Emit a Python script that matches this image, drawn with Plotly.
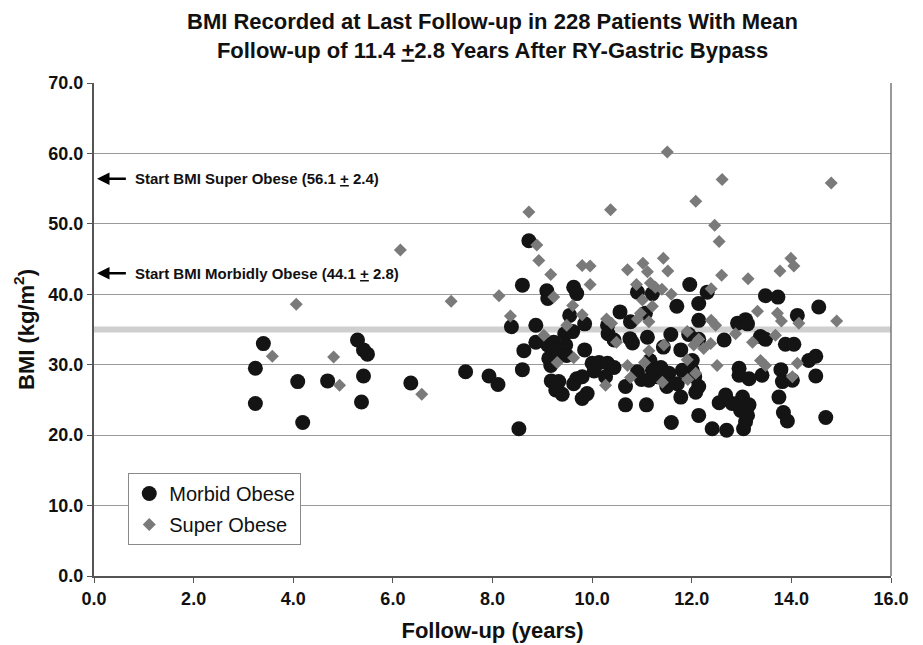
import plotly.graph_objects as go

# Morbid Obese (follow-up years, BMI)
morbid_x = [3.40, 3.24, 3.24, 4.19, 4.09, 4.69, 5.29, 5.41, 5.49, 5.41, 5.37, 6.36, 7.46, 7.93, 8.11,
            8.73, 8.60, 9.09, 9.11, 9.63, 9.69, 9.55, 9.85, 8.38, 8.87, 9.45, 9.61, 8.87, 9.23, 9.11,
            9.47, 8.63, 9.20, 9.43, 9.85, 9.13, 9.30, 9.49, 9.17, 8.60, 10.00, 10.04, 9.18, 9.33, 9.27,
            9.40, 9.69, 9.63, 9.90, 9.80, 8.53, 11.96, 10.91, 11.21, 11.70, 12.14, 10.56, 11.07, 10.77, 12.14,
            10.31, 11.58, 11.94, 12.14, 10.32, 10.44, 10.76, 10.81, 11.11, 11.43, 11.78, 11.16, 10.14, 10.31, 10.44,
            10.91, 11.21, 10.99, 11.14, 11.31, 11.50, 11.38, 11.54, 11.81, 11.71, 12.01, 11.78, 12.06, 12.14, 12.14,
            11.59, 10.67, 10.67, 11.09, 10.27, 12.31, 13.48, 13.73, 14.12, 12.92, 13.08, 13.12, 13.38, 13.48, 13.88,
            14.05, 12.65, 13.41, 12.95, 12.95, 13.15, 13.79, 13.82, 14.02, 14.35, 12.01, 12.08, 12.41, 12.70, 13.04,
            13.08, 13.12, 13.02, 12.81, 12.55, 12.68, 13.15, 12.98, 13.75, 13.84, 13.92, 14.55, 14.49, 14.49, 14.69,
            9.80]
morbid_y = [33.0, 29.5, 24.5, 21.8, 27.6, 27.7, 33.5, 32.1, 31.5, 28.4, 24.7, 27.4, 29.0, 28.4, 27.2,
            47.6, 41.3, 40.5, 39.4, 41.0, 40.1, 37.0, 35.8, 35.4, 35.6, 34.4, 34.7, 33.2, 33.2, 32.8,
            32.8, 32.0, 31.8, 31.8, 32.1, 30.9, 31.2, 31.3, 29.9, 29.3, 30.2, 29.1, 27.7, 27.6, 26.4,
            25.8, 28.0, 27.3, 25.9, 25.2, 20.9, 41.4, 40.3, 40.1, 38.3, 38.7, 37.5, 37.3, 36.1, 36.3,
            35.6, 34.3, 34.3, 33.6, 34.4, 33.5, 33.7, 33.1, 33.9, 32.5, 32.1, 30.6, 30.3, 30.2, 29.6,
            29.0, 29.2, 27.9, 27.8, 28.3, 26.9, 29.6, 28.8, 29.2, 27.3, 29.2, 25.4, 28.3, 26.9, 22.8,
            21.8, 26.9, 24.3, 24.3, 28.3, 40.3, 39.8, 39.6, 37.0, 35.9, 36.4, 35.8, 34.0, 33.6, 32.9,
            32.9, 33.5, 28.5, 29.5, 28.5, 28.0, 29.3, 27.6, 27.8, 30.6, 30.6, 26.1, 20.9, 20.7, 20.9,
            21.9, 22.8, 25.4, 24.5, 24.6, 25.7, 24.3, 23.5, 25.4, 23.2, 22.0, 38.2, 31.2, 28.4, 22.5,
            28.3]

# Super Obese (follow-up years, BMI)
super_x = [3.58, 4.06, 4.81, 4.93, 6.15, 6.58, 7.17, 8.73, 8.89, 8.93, 9.17, 9.80, 9.96, 9.96, 8.13,
           9.23, 9.61, 9.80, 8.36, 9.03, 9.49, 9.63, 9.30, 11.51, 10.37, 12.08, 10.71, 11.02, 11.11, 11.43,
           11.52, 10.89, 11.17, 11.27, 11.40, 11.59, 11.01, 11.21, 10.97, 10.29, 10.39, 10.91, 11.14, 11.91, 10.49,
           11.44, 12.04, 11.14, 11.05, 10.71, 10.77, 11.41, 11.91, 11.92, 10.27, 12.61, 12.46, 12.55, 12.60, 13.13,
           13.77, 13.99, 14.05, 12.39, 13.32, 13.72, 13.80, 14.15, 12.39, 12.48, 12.88, 13.68, 13.22, 12.38, 12.24,
           13.38, 13.48, 12.51, 14.02, 14.12, 12.08, 14.80, 14.91, 12.14]
super_y = [31.2, 38.6, 31.1, 27.1, 46.3, 25.8, 39.0, 51.7, 47.0, 44.8, 42.8, 44.1, 44.0, 41.4, 39.8,
           39.6, 38.4, 37.1, 36.9, 34.2, 35.6, 31.0, 30.3, 60.2, 52.0, 53.2, 43.5, 44.4, 43.2, 45.1,
           43.3, 41.4, 41.6, 41.0, 40.7, 40.0, 39.2, 38.3, 37.3, 36.5, 35.9, 36.5, 36.1, 34.7, 33.2,
           32.8, 32.8, 32.0, 30.3, 29.9, 28.2, 27.5, 30.7, 27.9, 27.1, 56.3, 49.8, 47.5, 42.7, 42.2,
           43.3, 45.1, 44.0, 40.8, 37.6, 37.3, 36.2, 35.9, 36.3, 35.6, 34.4, 34.2, 33.2, 33.0, 32.3,
           30.6, 29.9, 29.9, 28.3, 30.2, 28.8, 55.8, 36.2, 33.6]

mean_bmi = 35.0
start_super = 56.4
start_morbid = 43.0
x_ticks = [0, 2, 4, 6, 8, 10, 12, 14, 16]
y_ticks = [0, 10, 20, 30, 40, 50, 60, 70]

FONT = "Liberation Sans, Arial, sans-serif"

fig = go.Figure()
fig.add_trace(go.Scatter(
    x=morbid_x, y=morbid_y, mode="markers", name="Morbid Obese",
    legendgroup="a",
    marker=dict(symbol="circle", size=15, color="#141414", line=dict(width=0)),
))
fig.add_trace(go.Scatter(
    x=super_x, y=super_y, mode="markers", name="Super Obese",
    legendgroup="b",
    marker=dict(symbol="diamond", size=10, color="#7a7a7a", line=dict(width=0)),
))

fig.add_shape(type="line", x0=0, x1=16, y0=mean_bmi, y1=mean_bmi, xref="x", yref="y",
              line=dict(color="#cfcfcf", width=6), layer="below")

for yv, txt in [(start_super, "Start BMI Super Obese (56.1 <u>+</u> 2.4)"),
                (start_morbid, "Start BMI Morbidly Obese (44.1 <u>+</u> 2.8)")]:
    fig.add_annotation(x=0.06, y=yv, ax=0.67, ay=yv, axref="x", ayref="y", xref="x", yref="y",
                       text="", showarrow=True, arrowhead=2, arrowsize=1, arrowwidth=2.5,
                       arrowcolor="#000000")
    fig.add_annotation(x=0.78, y=yv, xref="x", yref="y", text="<b>" + txt + "</b>",
                       showarrow=False, xanchor="left", yanchor="middle",
                       font=dict(family=FONT, size=15, color="#111111"))

fig.update_layout(
    width=923, height=645,
    margin=dict(l=93.5, r=32, t=82.5, b=69, pad=0),
    paper_bgcolor="white", plot_bgcolor="white",
    font=dict(family=FONT, color="#111111"),
    title=dict(text="<b>BMI Recorded at Last Follow-up in 228 Patients With Mean<br>"
                    "Follow-up of 11.4 <u>+</u>2.8 Years After RY-Gastric Bypass</b>",
               x=0.5, xref="paper", xanchor="center", y=0.955, yref="container", yanchor="top",
               font=dict(family=FONT, size=22, color="#111111")),
    showlegend=True,
    legend=dict(x=0.043, y=0.209, xanchor="left", yanchor="top",
                bgcolor="white", bordercolor="#8a8a8a", borderwidth=1,
                font=dict(family=FONT, size=20, color="#111111"),
                tracegroupgap=2, itemsizing="trace"),
    xaxis=dict(range=[0, 16], tickmode="array", tickvals=x_ticks,
               ticktext=["<b>%.1f</b>" % v for v in x_ticks],
               showgrid=False, zeroline=False, showline=True, linecolor="#555555", linewidth=2,
               mirror=False, ticks="outside", ticklen=5, tickcolor="#555555", automargin=False,
               tickfont=dict(family=FONT, size=18, color="#111111"),
               title=dict(text="<b>Follow-up (years)</b>", standoff=15,
                          font=dict(family=FONT, size=22, color="#111111"))),
    yaxis=dict(range=[0, 70], tickmode="array", tickvals=y_ticks,
               ticktext=["<b>%.1f</b>" % v for v in y_ticks],
               showgrid=True, gridcolor="#9a9a9a", gridwidth=1,
               zeroline=False, showline=True, linecolor="#555555", linewidth=2,
               mirror=False, ticks="outside", ticklen=5, tickcolor="#555555", automargin=False,
               tickfont=dict(family=FONT, size=18, color="#111111"),
               title=dict(text="<b>BMI (kg/m<sup>2</sup>)</b>", standoff=8,
                          font=dict(family=FONT, size=22, color="#111111"))),
)

# right border of plot area
fig.add_shape(type="line", x0=1, x1=1, y0=0, y1=1, xref="paper", yref="paper",
              line=dict(color="#777777", width=1.5), layer="above")

fig.write_html("out.html")
